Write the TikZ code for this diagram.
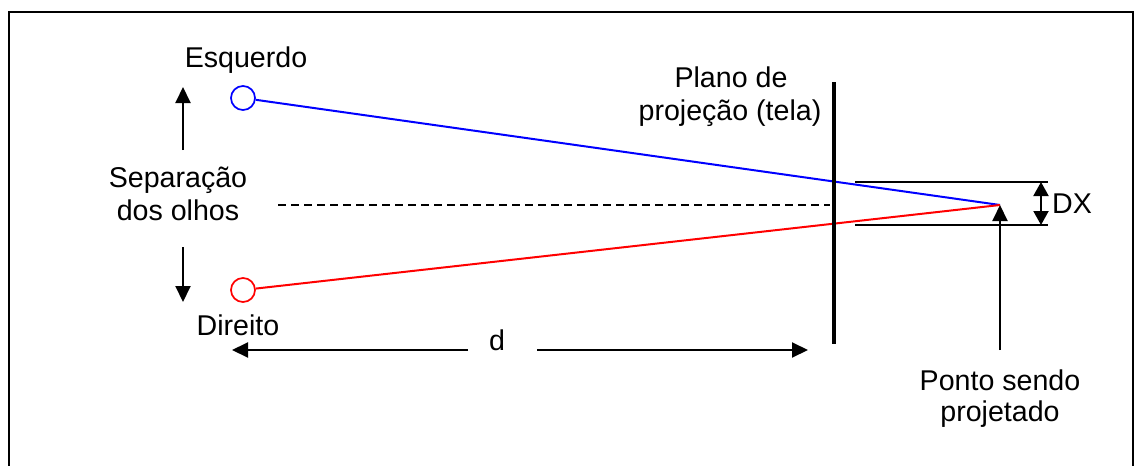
\documentclass[tikz,border=0pt]{standalone}
\usepackage{fontspec}
\setmainfont{Liberation Sans}
\usetikzlibrary{arrows.meta}
\begin{document}
\begin{tikzpicture}[x=0.5pt,y=-0.5pt,
  lbl/.style={font=\fontsize{14.3}{16}\selectfont, inner sep=0, anchor=base},
  eye/.style={circle, draw=#1, line width=0.85pt, minimum size=12pt, inner sep=0},
  thin/.style={line width=1pt},
  arr/.style={thin, -{Triangle[length=8pt,width=7.5pt]}},
  dblarr/.style={thin, {Triangle[length=7pt,width=7.5pt]}-{Triangle[length=7pt,width=7.5pt]}},
  ]
\useasboundingbox (0,0) rectangle (1136,466);
\begin{scope}
  \clip (0,0) rectangle (1136,466);
  \draw[line width=1.3pt] (9,520) -- (9,12) -- (1133,12) -- (1133,520);
\end{scope}

% eyes and point
\node[eye=blue] (L) at (243,98) {};
\node[eye=red] (R) at (243,290) {};
\coordinate (P) at (1000,205);
\draw[blue, thin] (L) -- (P);
\draw[red, thin] (R) -- (P);

% screen
\coordinate (S1) at (834,82);
\coordinate (S2) at (834,344);
\draw[line width=2pt] (S1) -- (S2);

% dashed center line
\coordinate (D1) at (278,205);
\coordinate (D2) at (830,205);
\draw[thin, dash pattern=on 4pt off 2.5pt] (D1) -- (D2);

% DX lines
\coordinate (T1) at (855,182);
\coordinate (T2) at (1048,182);
\coordinate (B1) at (855,225);
\coordinate (B2) at (1048,225);
\draw[thin] (T1) -- (T2);
\draw[thin] (B1) -- (B2);
\coordinate (XA) at (1041,182);
\coordinate (XB) at (1041,225);
\draw[dblarr] (XA) -- (XB);

% point arrow
\coordinate (Q) at (1000,350);
\draw[arr] (Q) -- (P);

% d arrows
\coordinate (dL0) at (468,350);
\coordinate (dL1) at (232,350);
\coordinate (dR0) at (537,350);
\coordinate (dR1) at (808,350);
\draw[arr] (dL0) -- (dL1);
\draw[arr] (dR0) -- (dR1);

% separation arrows
\coordinate (U0) at (183,150);
\coordinate (U1) at (183,87);
\coordinate (W0) at (183,247);
\coordinate (W1) at (183,302);
\draw[arr] (U0) -- (U1);
\draw[arr] (W0) -- (W1);

% labels
\node[lbl] (tEsq) at (246,67) {Esquerdo};
\node[lbl] (tSep1) at (178,187) {Separação};
\node[lbl] (tSep2) at (178,220) {dos olhos};
\node[lbl] (tDir) at (238,335) {Direito};
\node[lbl] (tPl1) at (731,87) {Plano de};
\node[lbl] (tPl2) at (730,120) {projeção (tela)};
\node[lbl] (td) at (497,350) {d};
\node[lbl] (tDX) at (1072,213) {DX};
\node[lbl] (tPo1) at (1000,390) {Ponto sendo};
\node[lbl] (tPo2) at (1000,421) {projetado};
\end{tikzpicture}
\end{document}
